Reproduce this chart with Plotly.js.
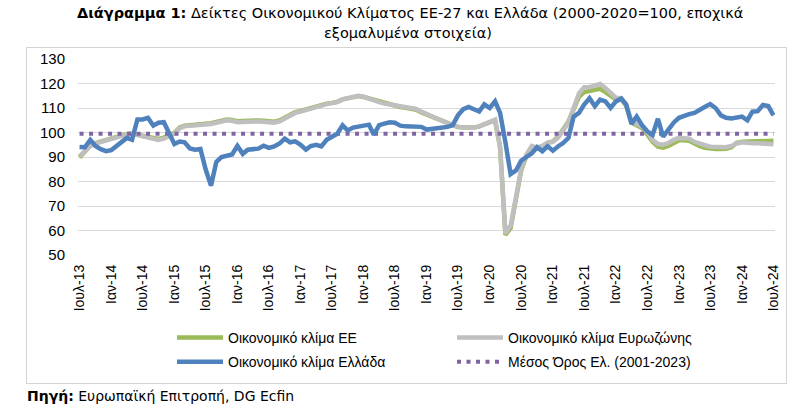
<!DOCTYPE html>
<html>
<head>
<meta charset="utf-8">
<script src="https://cdn.plot.ly/plotly-3.0.1.min.js"></script>
<style>
html,body{margin:0;padding:0;background:#fff;}
#wrap{position:relative;width:811px;height:416px;}
#chart{width:811px;height:416px;}
#frame{position:absolute;left:26px;top:47px;width:759px;height:335px;border:1px solid #D4D4D4;pointer-events:none;}
</style>
</head>
<body>
<div id="wrap"><div id="chart"></div><div id="frame"></div></div>
<script>
// Monthly data, Jul-2013 .. Jul-2024
var startYear = 2013, startMonth = 7;

var euClimate = [
89.8,92.3,94.6,95.7,96.4,97.0,97.6,98.2,99.0,99.4,99.6,99.2,
98.8,98.1,97.6,97.4,97.9,98.7,99.9,102.1,102.8,103.0,103.1,103.3,
103.5,103.8,104.3,104.8,105.3,105.1,104.6,104.7,104.9,104.9,104.9,104.8,
104.6,104.4,104.9,106.2,107.4,108.3,108.8,109.5,110.0,110.5,111.2,111.8,
112.1,112.5,113.5,114.0,114.7,114.9,114.5,113.9,113.0,112.4,111.8,111.3,
110.9,110.4,110.1,109.6,109.3,108.2,107.3,106.5,105.7,104.7,103.6,102.7,
102.2,102.0,102.0,102.0,102.5,103.2,104.3,105.0,94.0,58.2,61.0,73.0,
84.5,90.5,94.2,93.6,94.4,95.8,96.4,98.4,101.0,104.5,109.5,114.5,
116.5,116.8,117.3,117.8,116.5,115.0,113.5,113.5,111.0,104.0,103.0,101.8,
99.2,96.2,94.2,93.8,94.5,95.8,96.8,96.8,96.6,95.5,94.4,93.8,
93.4,93.3,93.3,93.4,94.0,95.8,96.2,96.2,96.3,96.4,96.5,96.5,
96.6
];

var euroAreaClimate = [
90.3,92.5,94.5,95.5,96.2,96.8,97.5,98.0,98.8,99.2,99.5,99.0,
98.5,97.8,97.2,97.0,97.5,98.3,99.5,101.8,102.5,102.7,102.8,103.0,
103.2,103.5,104.0,104.5,105.0,104.8,104.2,104.3,104.5,104.5,104.5,104.4,
104.2,104.0,104.5,105.8,107.0,108.0,108.5,109.2,109.8,110.3,111.0,111.6,
112.0,112.4,113.5,114.0,114.8,115.0,114.6,114.0,113.0,112.4,111.8,111.4,
111.0,110.6,110.3,109.8,109.6,108.5,107.6,106.8,106.0,105.0,103.8,102.8,
102.3,102.0,102.0,101.9,102.5,103.3,104.5,105.2,94.0,58.8,62.0,74.0,
85.0,91.0,94.5,93.8,94.5,95.8,96.2,98.0,100.5,104.0,110.0,116.0,
118.5,118.5,119.2,119.8,118.2,116.0,114.2,114.0,111.5,104.5,103.5,102.5,
100.0,97.0,95.3,95.0,95.7,97.0,97.8,97.8,97.5,96.2,95.3,94.8,
94.2,94.0,94.0,94.0,94.5,95.5,96.0,95.7,95.6,95.6,95.4,95.3,
95.2
];

var greeceClimate = [
94.1,94.0,97.0,94.5,93.2,92.4,92.8,94.5,96.0,97.8,97.0,105.3,
105.3,106.0,102.8,104.0,104.2,100.0,95.3,96.3,96.0,93.5,93.0,93.3,
85.0,78.3,88.0,90.0,90.5,91.0,94.5,91.3,93.0,93.3,93.4,94.6,
93.7,94.3,95.5,97.5,96.0,96.4,95.0,93.0,94.5,95.0,94.3,97.0,
98.5,99.5,102.9,100.8,102.0,102.3,103.0,103.2,99.1,103.0,103.6,104.2,
104.0,102.8,102.5,102.3,102.3,102.3,101.2,101.5,101.9,101.9,102.3,103.0,
107.0,109.5,110.4,109.5,108.6,111.5,110.0,112.7,108.0,96.0,83.0,84.5,
88.5,90.0,91.5,94.0,92.3,94.4,92.6,94.4,95.7,97.8,106.5,108.0,
111.4,114.0,110.7,113.4,112.7,110.0,112.7,113.8,111.4,103.5,106.5,103.0,
100.5,99.0,105.6,98.3,101.5,104.0,106.0,107.0,107.5,108.0,109.0,110.5,
111.6,110.0,107.0,106.0,105.7,106.2,106.5,105.0,108.5,108.7,111.2,110.8,
107.0
];

var greeceMean = 99.5;

var tickDates = ['2013-07-01','2014-01-01','2014-07-01','2015-01-01','2015-07-01','2016-01-01',
  '2016-07-01','2017-01-01','2017-07-01','2018-01-01','2018-07-01','2019-01-01','2019-07-01',
  '2020-01-01','2020-07-01','2021-01-01','2021-07-01','2022-01-01','2022-07-01','2023-01-01',
  '2023-07-01','2024-01-01','2024-07-01'];
var tickLabels = ['Ιουλ-13','Ιαν-14','Ιουλ-14','Ιαν-15','Ιουλ-15','Ιαν-16','Ιουλ-16','Ιαν-17',
  'Ιουλ-17','Ιαν-18','Ιουλ-18','Ιαν-19','Ιουλ-19','Ιαν-20','Ιουλ-20','Ιαν-21','Ιουλ-21',
  'Ιαν-22','Ιουλ-22','Ιαν-23','Ιουλ-23','Ιαν-24','Ιουλ-24'];

var seriesNames = ['Οικονομικό κλίμα ΕΕ','Οικονομικό κλίμα Ευρωζώνης','Οικονομικό κλίμα Ελλάδα','Μέσος Όρος Ελ. (2001-2023)'];
var titleLine1 = '<b>Διάγραμμα 1:</b> Δείκτες Οικονομικού Κλίματος ΕΕ-27 και Ελλάδα (2000-2020=100, εποχικά';
var titleLine2 = 'εξομαλυμένα στοιχεία)';
var sourceText = '<b>Πηγή:</b> Ευρωπαϊκή Επιτροπή, DG Ecfin';

// month dates
var months = [];
for (var k = 0; k < greeceClimate.length; k++) {
  var m = startMonth - 1 + k;
  var yy = startYear + Math.floor(m / 12);
  var mm = (m % 12) + 1;
  months.push(yy + '-' + (mm < 10 ? '0' + mm : mm) + '-01');
}
var meanLine = months.map(function(){ return greeceMean; });

// pixel helpers
var W = 811, H = 416;
var L = 78, R = 36, T = 59, B = 161;
var pw = W - L - R, ph = H - T - B;
function px(x){ return (x - L) / pw; }
function py(y){ return (H - B - y) / ph; }

var FONT = 'Liberation Sans, Arial, sans-serif';
var TFONT = 'DejaVu Sans, Liberation Sans, sans-serif';

var traces = [
  {x: months, y: euClimate, type: 'scatter', mode: 'lines', name: seriesNames[0],
   line: {color: '#9BBB59', width: 4.5}, legend: 'legend', legendrank: 1, legendgroup: 'a'},
  {x: months, y: euroAreaClimate, type: 'scatter', mode: 'lines', name: seriesNames[1],
   line: {color: '#BFBFBF', width: 4.5}, legend: 'legend2', legendrank: 1, legendgroup: 'b'},
  {x: months, y: meanLine, type: 'scatter', mode: 'lines', name: seriesNames[3],
   line: {color: '#8064A2', width: 4, dash: '4px,5.5px'}, legend: 'legend2', legendrank: 2, legendgroup: 'd'},
  {x: months, y: greeceClimate, type: 'scatter', mode: 'lines', name: seriesNames[2],
   line: {color: '#4F81BD', width: 4.5}, legend: 'legend', legendrank: 2, legendgroup: 'c'}
];

var legendCommon = {
  orientation: 'v', xanchor: 'left', yanchor: 'top', bgcolor: 'rgba(0,0,0,0)',
  font: {family: FONT, size: 14, color: '#000'}, itemwidth: 46,
  tracegroupgap: 3, traceorder: 'grouped', borderwidth: 0
};

var layout = {
  width: W, height: H,
  margin: {l: L, r: R, t: T, b: B, pad: 0},
  paper_bgcolor: '#fff', plot_bgcolor: '#fff',
  showlegend: true,
  xaxis: {
    type: 'date',
    range: ['2013-06-22', '2024-07-10'],
    tickmode: 'array', tickvals: tickDates, ticktext: tickLabels,
    tickangle: -90, ticks: '', showgrid: false, zeroline: false, showline: false,
    tickfont: {family: FONT, size: 14, color: '#000'},
    ticklabelstandoff: 6
  },
  yaxis: {
    range: [50, 130], dtick: 10, tick0: 50,
    showgrid: true, gridcolor: '#D9D9D9', gridwidth: 1,
    zeroline: false, showline: false, ticks: '',
    tickfont: {family: FONT, size: 15, color: '#000'},
    ticklabelstandoff: 12
  },
  legend: Object.assign({}, legendCommon, {x: px(172), y: py(322)}),
  legend2: Object.assign({}, legendCommon, {x: px(452), y: py(322)}),
  annotations: [
    {text: titleLine1, xref: 'paper', yref: 'paper', x: px(410), y: py(13),
     xanchor: 'center', yanchor: 'middle', showarrow: false,
     font: {family: TFONT, size: 14.5, color: '#000'}},
    {text: titleLine2, xref: 'paper', yref: 'paper', x: px(408), y: py(33),
     xanchor: 'center', yanchor: 'middle', showarrow: false,
     font: {family: TFONT, size: 14.5, color: '#000'}},
    {text: sourceText, xref: 'paper', yref: 'paper',
     x: px(25), y: py(396), xanchor: 'left', yanchor: 'middle', showarrow: false,
     font: {family: TFONT, size: 14, color: '#000'}}
  ]
};

Plotly.newPlot('chart', traces, layout, {displayModeBar: false, staticPlot: true});
</script>
</body>
</html>
